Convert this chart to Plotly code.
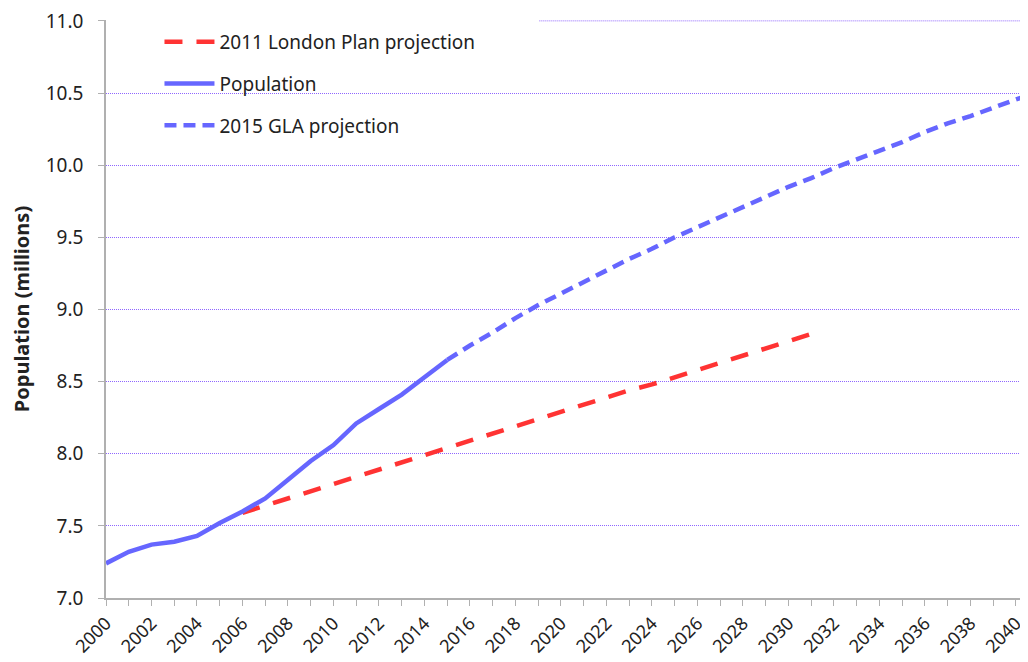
import plotly.graph_objects as go

# population, millions
pop_years = list(range(2000, 2016))
population = [7.24, 7.32, 7.37, 7.39, 7.43, 7.52, 7.60, 7.69, 7.82, 7.95,
              8.06, 8.21, 8.31, 8.41, 8.53, 8.65]

plan_years = list(range(2006, 2032))
london_plan_2011 = [7.59, 7.64, 7.69, 7.74, 7.79, 7.84, 7.89, 7.94, 7.99, 8.04,
                    8.09, 8.14, 8.19, 8.24, 8.29, 8.34, 8.39, 8.44, 8.48, 8.53,
                    8.58, 8.63, 8.68, 8.73, 8.78, 8.83]

gla_years = list(range(2015, 2042))
gla_2015 = [8.65, 8.75, 8.84, 8.94, 9.03, 9.11, 9.19, 9.27, 9.35, 9.42,
            9.50, 9.57, 9.64, 9.71, 9.78, 9.85, 9.91, 9.98, 10.04, 10.10,
            10.16, 10.23, 10.29, 10.34, 10.40, 10.455, 10.51]

Y_MIN, Y_MAX = 7.0, 11.0

BLUE = "#6666ff"
RED = "#ff3333"
GRID = "#8f66ff"
GRID_DASH = "1px,1px"
FONT = "'Noto Sans', 'Open Sans', sans-serif"

fig = go.Figure()
fig.add_trace(go.Scatter(
    x=plan_years, y=london_plan_2011, name="2011 London Plan projection",
    mode="lines", legendgroup="a",
    line=dict(color=RED, width=4.5, dash="18px,14px"),
))
fig.add_trace(go.Scatter(
    x=pop_years, y=population, name="Population",
    mode="lines", legendgroup="b",
    line=dict(color=BLUE, width=4.5),
))
fig.add_trace(go.Scatter(
    x=gla_years, y=gla_2015, name="2015 GLA projection",
    mode="lines", legendgroup="c",
    line=dict(color=BLUE, width=4.5, dash="12px,7px"),
))

# white box behind the legend (hides the gridlines like the original)
fig.add_shape(type="rect", xref="paper", yref="paper", x0=0.002, x1=0.47,
              y0=0.75, y1=1.01, fillcolor="white", line_width=0, layer="below")
# plotly drops the gridline on the top edge, so draw it right of the legend
fig.add_shape(type="line", xref="paper", yref="y", x0=0.47, x1=1,
              y0=Y_MAX, y1=Y_MAX, line=dict(color=GRID, width=1, dash=GRID_DASH),
              layer="below")

# page body has an 8px margin, so the figure is a bit smaller than the window
fig.update_layout(
    width=1020, height=654,
    paper_bgcolor="white", plot_bgcolor="white",
    font=dict(family=FONT, size=18, color="#222222"),
    margin=dict(l=98, r=0, t=12, b=64),
    showlegend=True,
    legend=dict(x=0.058, y=0.995, xanchor="left", yanchor="top",
                bgcolor="rgba(0,0,0,0)", font=dict(size=19),
                itemwidth=50, tracegroupgap=14, traceorder="grouped"),
    xaxis=dict(
        range=[2000, 2040.53], tick0=2000, dtick=2,
        showgrid=False, zeroline=False,
        showline=True, linecolor="#b0b0b0", linewidth=1.5,
        ticks="outside", ticklen=6, tickcolor="#b0b0b0",
        tickangle=-45, tickfont=dict(size=18),
        minor=dict(dtick=1, ticks="outside", ticklen=6, tickcolor="#b0b0b0"),
    ),
    yaxis=dict(
        range=[Y_MIN, Y_MAX + 0.006], tick0=Y_MIN, dtick=0.5, tickformat=".1f",
        showgrid=True, gridcolor=GRID, griddash=GRID_DASH, gridwidth=1,
        zeroline=False,
        showline=True, linecolor="#b0b0b0", linewidth=1.5,
        ticks="outside", ticklen=6, tickcolor="#b0b0b0",
        ticklabelstandoff=11, ticklabeloverflow="allow", tickfont=dict(size=19),
        title=dict(text="<b>Population (millions)</b>", font=dict(size=20), standoff=12),
    ),
)

fig.write_html("out.html")
